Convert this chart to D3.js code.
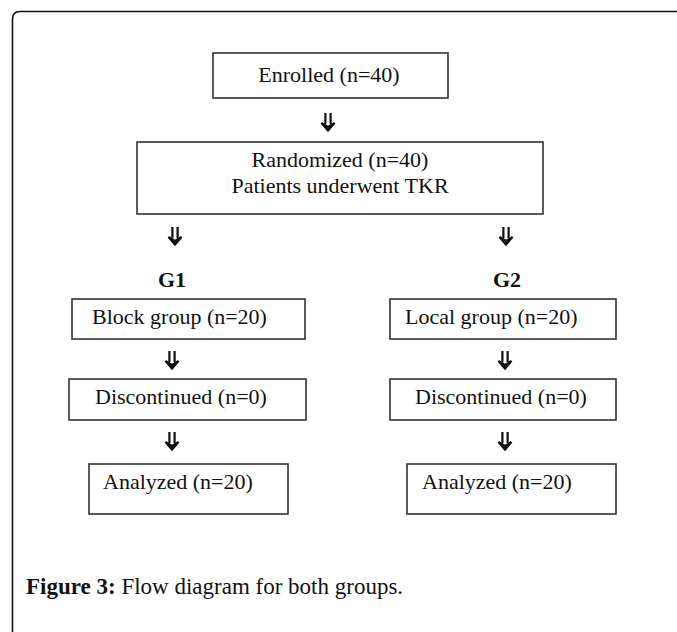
<!DOCTYPE html>
<html lang="en">
<head>
  <meta charset="UTF-8">
  <title>Flow diagram for both groups</title>
  <script src="https://d3js.org/d3.v7.min.js"></script>
  <style>
    body { margin: 0; background: #fff; }
    .box { fill: #fff; stroke: #333; stroke-width: 1.6px; }
    .lbl { font-family: "Liberation Serif", "Times New Roman", serif; font-size: 22px; fill: #111; }
    .grp { font-family: "Liberation Serif", serif; font-size: 22px; font-weight: bold; fill: #111; }
    .arr path { stroke: #111; stroke-width: 2.2px; }
    .cap { font-family: "Liberation Serif", serif; font-size: 23px; fill: #111; }
  </style>
</head>
<body>
<svg id="chart" width="677" height="632"></svg>
<script>
// diagram texts
const enrolled = "Enrolled (n=40)";
const randomized = ["Randomized (n=40)", "Patients underwent TKR"];
const groups = ["G1", "G2"];
const g1Steps = ["Block group (n=20)", "Discontinued (n=0)", "Analyzed (n=20)"];
const g2Steps = ["Local group (n=20)", "Discontinued (n=0)", "Analyzed (n=20)"];
const captionBold = "Figure 3:";
const captionText = " Flow diagram for both groups.";

const svg = d3.select("#chart");

// outer frame (only top and left edges are visible)
svg.append("path")
  .attr("d", "M12.5,640 L12.5,19 Q12.5,11.5 20,11.5 L690,11.5")
  .attr("fill", "none")
  .attr("stroke", "#111")
  .attr("stroke-width", 1.6);

// layout of the group columns: box rects per step
const rowY = [299, 379, 464];
const rowH = [40, 41, 50];
const colBoxes = [
  [[72, 233], [69, 237], [89, 199]],
  [[390, 226], [390, 226], [407, 209]]
];
const textX = [[92, 95, 103], [405, 415, 422]];
const arrowX = [[172, 172], [505, 505]];

// double down arrow, centred on (x, y)
function arrow(x, y) {
  const g = svg.append("g").attr("class", "arr");
  g.append("path")
    .attr("fill", "none")
    .attr("d", `M${x - 2.6},${y - 9} V${y + 2} M${x + 2.6},${y - 9} V${y + 2}`);
  g.append("path")
    .attr("fill", "#111")
    .attr("stroke-width", 1.4)
    .attr("d", `M${x - 6.5},${y + 1} L${x},${y + 8.5} L${x + 6.5},${y + 1} L${x},${y + 5} Z`);
}

// enrolled
svg.append("rect").attr("class", "box")
  .attr("x", 213).attr("y", 53).attr("width", 235).attr("height", 45);
svg.append("text").attr("class", "lbl")
  .attr("x", 329).attr("y", 82).attr("text-anchor", "middle")
  .text(enrolled);
arrow(328, 122);

// randomized
svg.append("rect").attr("class", "box")
  .attr("x", 137).attr("y", 142).attr("width", 406).attr("height", 72);
svg.selectAll(".rnd")
  .data(randomized)
  .enter().append("text")
  .attr("class", "lbl rnd")
  .attr("x", 340)
  .attr("y", (d, i) => 167 + i * 26)
  .attr("text-anchor", "middle")
  .text(d => d);

arrow(175, 236);
arrow(506, 236);

// group headings
const gx = [172, 507];
svg.selectAll(".grp")
  .data(groups)
  .enter().append("text")
  .attr("class", "grp")
  .attr("x", (d, i) => gx[i])
  .attr("y", 287)
  .attr("text-anchor", "middle")
  .text(d => d);

[g1Steps, g2Steps].forEach((steps, c) => {
  steps.forEach((s, r) => {
    const b = colBoxes[c][r];
    svg.append("rect").attr("class", "box")
      .attr("x", b[0]).attr("y", rowY[r])
      .attr("width", b[1]).attr("height", rowH[r]);
    svg.append("text").attr("class", "lbl")
      .attr("x", textX[c][r]).attr("y", rowY[r] + 25)
      .text(s);
    if (r < steps.length - 1) arrow(arrowX[c][r], rowY[r] + rowH[r] + 21);
  });
});

// caption
const cap = svg.append("text").attr("class", "cap").attr("x", 26).attr("y", 594);
cap.append("tspan").attr("font-weight", "bold").text(captionBold);
cap.append("tspan").text(captionText);
</script>
</body>
</html>
